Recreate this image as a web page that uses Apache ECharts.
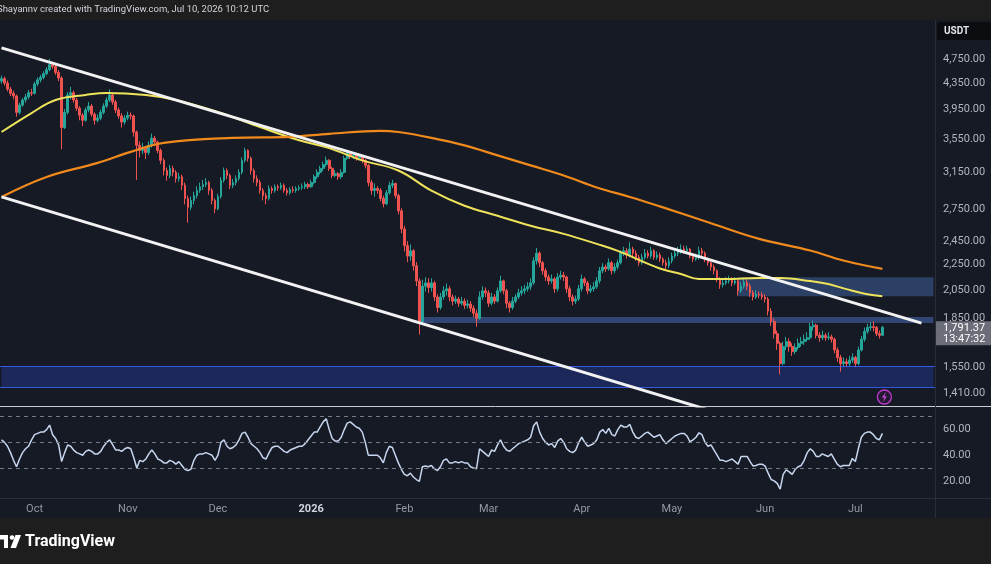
<!DOCTYPE html>
<html>
<head>
<meta charset="utf-8">
<script src="https://cdn.jsdelivr.net/npm/echarts@6/dist/echarts.min.js"></script>
<style>
html, body { margin: 0; padding: 0; background: #1e1e1e; }
#chart { width: 991px; height: 564px; }
</style>
</head>
<body>
<div id="chart"></div>
<script>
// daily candles, 2025-09-20 .. 2026-07-10 (open = previous close)
var firstOpen = 4380;
var closes = [
    4420, 4350, 4255, 4190, 4150, 3910, 4015, 4090, 4135, 4200,
    4190, 4335, 4400, 4440, 4500, 4565, 4650, 4620, 4520, 4430,
    3700, 3910, 4165, 4200, 4090, 3970, 3870, 3800, 3945, 4000,
    3885, 3800, 3830, 3910, 4000, 4090, 4165, 4060, 3945, 3860,
    3775, 3830, 3870, 3860, 3640, 3470, 3405, 3430, 3380, 3470,
    3560, 3510, 3405, 3285, 3165, 3110, 3190, 3145, 3075, 3095,
    3000, 2860, 2770, 2840, 2890, 2945, 2985, 3010, 3030, 2945,
    2840, 2755, 2880, 3055, 3165, 3110, 3000, 3030, 3075, 3145,
    3285, 3405, 3310, 3165, 3075, 3030, 2945, 2890, 2860, 2965,
    2945, 2985, 2975, 3000, 2945, 2920, 2955, 2945, 2965, 2975,
    2985, 3010, 2985, 3030, 3095, 3145, 3190, 3235, 3285, 3190,
    3110, 3130, 3095, 3145, 3310, 3370, 3335, 3345, 3310, 3335,
    3285, 3225, 3030, 2945, 2965, 2945, 2860, 2805, 2920, 3000,
    3020, 2890, 2735, 2560, 2410, 2320, 2365, 2240, 2120, 1830,
    2080, 2105, 2070, 2105, 2000, 1925, 2000, 2045, 2060, 2000,
    1970, 1985, 1955, 1970, 1940, 1950, 1920, 1885, 1850, 2000,
    2045, 2030, 1955, 2000, 1970, 2045, 2120, 2045, 1955, 1925,
    1970, 2000, 2030, 2045, 2060, 2075, 2105, 2280, 2345, 2265,
    2200, 2150, 2120, 2135, 2060, 2150, 2165, 2150, 2060, 2000,
    1970, 1985, 2060, 2135, 2105, 2045, 2060, 2075, 2120, 2200,
    2230, 2215, 2265, 2200, 2230, 2265, 2345, 2365, 2330, 2380,
    2345, 2310, 2265, 2310, 2345, 2320, 2365, 2310, 2330, 2295,
    2265, 2240, 2280, 2320, 2345, 2365, 2380, 2365, 2380, 2320,
    2295, 2310, 2365, 2345, 2295, 2265, 2230, 2200, 2135, 2090,
    2105, 2120, 2125, 2105, 2120, 2045, 2080, 2110, 2080, 2030,
    2000, 2020, 2015, 2000, 1985, 1900, 1830, 1750, 1690, 1570,
    1670, 1700, 1670, 1640, 1665, 1690, 1700, 1715, 1725, 1795,
    1805, 1740, 1725, 1740, 1725, 1730, 1715, 1650, 1605, 1570,
    1580, 1570, 1590, 1605, 1570, 1650, 1715, 1765, 1790, 1795,
    1790, 1750, 1740, 1791.37
];
var highs = [
    4470, 4450, 4390, 4290, 4230, 4170, 4050, 4120, 4180, 4240,
    4260, 4370, 4440, 4480, 4540, 4610, 4750, 4700, 4650, 4560,
    4460, 3960, 4210, 4290, 4230, 4120, 4000, 3900, 3980, 4060,
    4030, 3910, 3880, 3950, 4040, 4130, 4250, 4190, 4090, 3980,
    3900, 3870, 3920, 3910, 3880, 3660, 3520, 3500, 3460, 3520,
    3620, 3590, 3530, 3430, 3310, 3200, 3230, 3220, 3170, 3140,
    3120, 3030, 2890, 2880, 2930, 2990, 3030, 3060, 3080, 3050,
    2970, 2860, 2910, 3090, 3200, 3190, 3130, 3070, 3110, 3180,
    3320, 3440, 3420, 3330, 3190, 3110, 3060, 2970, 2920, 3000,
    2990, 3010, 3010, 3030, 3020, 2970, 2980, 2990, 2990, 3000,
    3020, 3040, 3030, 3060, 3120, 3180, 3220, 3270, 3330, 3300,
    3210, 3170, 3150, 3180, 3340, 3400, 3390, 3380, 3370, 3360,
    3350, 3300, 3240, 3060, 3020, 2990, 2970, 2890, 2950, 3040,
    3060, 3030, 2910, 2760, 2590, 2450, 2420, 2380, 2270, 2140,
    2130, 2150, 2140, 2140, 2120, 2020, 2030, 2080, 2100, 2080,
    2020, 2010, 2000, 2000, 1990, 1980, 1970, 1940, 1910, 2040,
    2080, 2070, 2050, 2030, 2020, 2070, 2160, 2130, 2060, 1970,
    2000, 2020, 2060, 2080, 2090, 2110, 2140, 2310, 2390, 2360,
    2280, 2220, 2170, 2170, 2150, 2180, 2200, 2190, 2160, 2080,
    2020, 2010, 2090, 2170, 2150, 2120, 2090, 2110, 2150, 2230,
    2260, 2250, 2300, 2280, 2260, 2290, 2370, 2400, 2390, 2440,
    2400, 2370, 2330, 2340, 2380, 2370, 2400, 2380, 2360, 2350,
    2310, 2290, 2310, 2350, 2380, 2400, 2420, 2410, 2410, 2390,
    2340, 2340, 2400, 2390, 2360, 2310, 2280, 2250, 2210, 2150,
    2130, 2150, 2160, 2150, 2150, 2130, 2110, 2140, 2130, 2100,
    2050, 2050, 2040, 2035, 2020, 2000, 1920, 1850, 1770, 1700,
    1700, 1730, 1720, 1690, 1690, 1720, 1730, 1745, 1760, 1820,
    1835, 1815, 1760, 1770, 1755, 1760, 1745, 1725, 1665, 1620,
    1605, 1600, 1615, 1630, 1615, 1670, 1735, 1790, 1815, 1825,
    1830, 1800, 1770, 1800
];
var lows = [
    4340, 4310, 4220, 4150, 4100, 3850, 3880, 3990, 4050, 4100,
    4150, 4170, 4300, 4360, 4410, 4470, 4540, 4580, 4480, 4380,
    3420, 3680, 3880, 4100, 4050, 3930, 3800, 3720, 3780, 3910,
    3850, 3740, 3770, 3800, 3880, 3970, 4060, 4020, 3900, 3820,
    3700, 3740, 3800, 3810, 3580, 3060, 3320, 3360, 3300, 3350,
    3440, 3460, 3370, 3240, 3110, 3050, 3080, 3100, 3030, 3040,
    2950, 2800, 2620, 2740, 2800, 2860, 2920, 2950, 2980, 2900,
    2800, 2710, 2740, 2860, 3030, 3070, 2960, 2970, 3000, 3050,
    3120, 3260, 3270, 3120, 3030, 2990, 2910, 2840, 2800, 2840,
    2910, 2920, 2940, 2950, 2920, 2890, 2900, 2920, 2920, 2940,
    2950, 2960, 2960, 2970, 3010, 3070, 3120, 3160, 3210, 3160,
    3080, 3090, 3060, 3070, 3130, 3290, 3300, 3300, 3280, 3290,
    3250, 3190, 2990, 2900, 2880, 2910, 2830, 2770, 2790, 2900,
    2970, 2860, 2700, 2520, 2360, 2270, 2280, 2200, 2080, 1745,
    1810, 2040, 2030, 2040, 1970, 1890, 1910, 1980, 2010, 1970,
    1940, 1950, 1930, 1940, 1915, 1920, 1895, 1860, 1795, 1840,
    1980, 2000, 1930, 1940, 1950, 1960, 2030, 2020, 1920, 1890,
    1910, 1955, 1985, 2010, 2020, 2040, 2050, 2090, 2250, 2230,
    2170, 2120, 2090, 2100, 2030, 2040, 2130, 2120, 2030, 1970,
    1940, 1950, 1970, 2040, 2080, 2020, 2030, 2040, 2060, 2100,
    2180, 2190, 2200, 2170, 2180, 2210, 2250, 2320, 2300, 2310,
    2320, 2280, 2240, 2250, 2290, 2300, 2300, 2290, 2290, 2270,
    2240, 2210, 2220, 2260, 2300, 2320, 2340, 2340, 2340, 2300,
    2270, 2280, 2290, 2320, 2270, 2240, 2200, 2170, 2110, 2060,
    2070, 2090, 2100, 2080, 2090, 2010, 2030, 2060, 2050, 2000,
    1975, 1985, 1990, 1980, 1960, 1870, 1800, 1720, 1650, 1510,
    1560, 1650, 1640, 1615, 1625, 1650, 1670, 1680, 1700, 1710,
    1770, 1720, 1700, 1710, 1705, 1710, 1695, 1630, 1580, 1525,
    1550, 1550, 1555, 1575, 1550, 1560, 1640, 1700, 1750, 1770,
    1765, 1735, 1720, 1735
];
var rsiValues = [
    52, 50, 47, 42, 36, 31, 37, 42, 45, 47,
    52, 56, 57, 58, 58, 60, 63.5, 56, 53, 48,
    35, 42, 48, 47, 44, 42, 41, 40, 43, 44,
    43, 41, 41, 43, 47, 50, 52, 48, 44, 44,
    43, 45, 46, 45, 38, 30, 36, 35, 37, 41,
    44, 41, 37, 36, 34, 34, 36, 35, 33, 35,
    32, 29, 28, 29, 36, 40, 41, 41, 42, 41,
    40, 36, 40, 50, 52, 47, 45, 46, 48, 52,
    57, 58, 54, 49, 47, 45, 42, 38, 37, 42,
    46, 47, 47, 45, 43, 42, 44, 45, 46, 47,
    47, 49, 52, 55, 58, 58, 62, 66, 68.5, 60,
    53, 51, 51, 54, 60, 65, 66, 64, 62, 61,
    58, 50, 40, 40, 40, 40, 38, 34, 42, 47,
    46, 40, 34, 29, 25, 24, 26, 23, 21, 19.5,
    31, 31.5, 31, 32, 29.5, 28, 31, 36, 37, 34,
    34, 35, 34, 35, 34, 34, 31, 30, 29.5, 45,
    43, 41, 39, 44, 43, 48, 52, 47, 44, 43,
    45, 47, 49, 50, 51, 52, 54, 63, 66, 58,
    53, 50, 48, 49, 46, 51, 53, 50, 45, 43,
    42, 44, 50, 54, 50, 47, 48, 49, 52, 58,
    60, 57, 61, 56, 55, 60, 63.5, 62, 62, 64,
    58, 54, 53, 55, 57, 58, 56, 54, 55, 56,
    52, 49, 51, 53, 55, 56, 57, 57, 55, 50.5,
    52, 54, 57.5, 56, 50, 47, 48, 44, 40, 36,
    36, 35, 36, 37, 35, 33, 39, 39, 39, 35,
    31.5, 32, 33, 33, 31.5, 26, 21, 20, 18, 13.5,
    25, 28.5, 27, 25, 29, 31, 32, 36, 42, 45,
    43, 39, 39, 41, 40, 39, 41, 37, 33, 31,
    32, 32, 32, 37.5, 35, 45, 54, 57, 58, 58,
    56, 53, 52, 57
];
// moving averages
var ma100Points = [
    ['2025-09-20', 3641], ['2025-09-30', 3901], ['2025-10-08', 4089], ['2025-10-18', 4165],
    ['2025-10-25', 4197], ['2025-11-07', 4165], ['2025-11-17', 4089], ['2025-12-02', 3901],
    ['2025-12-15', 3707], ['2025-12-28', 3533], ['2026-01-07', 3434], ['2026-01-18', 3284],
    ['2026-01-30', 3166], ['2026-02-10', 2943], ['2026-02-21', 2786], ['2026-03-04', 2686],
    ['2026-03-15', 2590], ['2026-03-26', 2515], ['2026-04-06', 2425], ['2026-04-13', 2364],
    ['2026-04-27', 2218], ['2026-05-04', 2174], ['2026-05-10', 2134], ['2026-05-19', 2134],
    ['2026-05-30', 2142], ['2026-06-06', 2142], ['2026-06-16', 2119], ['2026-06-22', 2096],
    ['2026-06-28', 2058], ['2026-07-05', 2020], ['2026-07-10', 2006]
];
var ma200Points = [
    ['2025-09-20', 2876], ['2025-10-05', 3093], ['2025-10-22', 3255], ['2025-11-02', 3388],
    ['2025-11-13', 3501], ['2025-12-06', 3565], ['2025-12-25', 3578], ['2026-01-07', 3617],
    ['2026-01-24', 3657], ['2026-01-30', 3641], ['2026-02-10', 3565], ['2026-02-21', 3469],
    ['2026-03-04', 3345], ['2026-03-15', 3225], ['2026-03-26', 3109], ['2026-04-06', 2976],
    ['2026-04-17', 2876], ['2026-04-27', 2779], ['2026-05-14', 2614], ['2026-05-30', 2470],
    ['2026-06-16', 2368], ['2026-06-27', 2283], ['2026-07-10', 2215]
];
var channelUpper = [['2025-09-20', 4943], ['2026-07-23', 1819]];
var channelLower = [['2025-09-20', 2877], ['2026-05-18', 1306]];
// zones: [start date, low, high]
var zoneSupply = ['2026-05-23', 2006, 2149];
var zoneLevel = ['2026-02-06', 1820, 1859];
var zoneDemand = ['2025-09-20', 1441, 1555];

var priceTicks = [4750, 4350, 3950, 3550, 3150, 2750, 2450, 2250, 2050, 1850, 1550, 1410];
var rsiTicks = [20, 40, 60];
var rsiLevels = [70, 50, 30];
var monthNames = ['Jan', 'Feb', 'Mar', 'Apr', 'May', 'Jun', 'Jul', 'Aug', 'Sep', 'Oct', 'Nov', 'Dec'];

var dates = [];
for (var i = 0; i < 311; i++) {
    dates.push(new Date(Date.UTC(2025, 8, 20) + i * 86400000).toISOString().slice(0, 10));
}
var lastDate = dates[dates.length - 1];

var candleData = closes.map(function (c, i) {
    var o = i === 0 ? firstOpen : closes[i - 1];
    return [o, c, lows[i], highs[i]];
});

function fmt2(v) {
    return Number(v).toLocaleString('en-US', { minimumFractionDigits: 2, maximumFractionDigits: 2 });
}

var FONT = 'Roboto';
var chart = echarts.init(document.getElementById('chart'));

var option = {
    animation: false,
    backgroundColor: '#161a25',
    textStyle: { fontFamily: FONT },
    grid: [
        { left: 0, right: 56, top: 21, height: 385 },
        { left: 0, right: 56, top: 407, height: 91 }
    ],
    xAxis: [
        {
            type: 'category', gridIndex: 0, data: dates, boundaryGap: true,
            axisLine: { show: false }, axisTick: { show: false }, axisLabel: { show: false }, splitLine: { show: false }
        },
        {
            type: 'category', gridIndex: 1, data: dates, boundaryGap: true,
            axisLine: { show: true, lineStyle: { color: '#2a2e39' } },
            axisTick: { show: false },
            splitLine: { show: false },
            axisLabel: {
                interval: function (idx, val) { return val.slice(8) === '01'; },
                formatter: function (val) {
                    var m = +val.slice(5, 7);
                    return m === 1 ? '{y|' + val.slice(0, 4) + '}' : monthNames[m - 1];
                },
                rich: { y: { fontWeight: 'bold', color: '#d1d4dc', fontSize: 11, fontFamily: FONT } },
                color: '#9598a1', fontSize: 11, margin: 6
            }
        }
    ],
    yAxis: [
        {
            type: 'log', gridIndex: 0, position: 'right', min: 1346, max: 5449,
            axisLine: { show: false }, axisTick: { show: false }, splitLine: { show: false },
            axisLabel: { customValues: priceTicks, formatter: fmt2, color: '#b2b5be', fontSize: 11, margin: 8 }
        },
        {
            type: 'value', gridIndex: 1, position: 'right', min: 6.6, max: 77.6,
            axisLine: { show: false }, axisTick: { show: false }, splitLine: { show: false },
            axisLabel: { customValues: rsiTicks, formatter: fmt2, color: '#b2b5be', fontSize: 11, margin: 8 }
        }
    ],
    series: [
        {
            name: 'ETHUSDT', type: 'candlestick', xAxisIndex: 0, yAxisIndex: 0, data: candleData, z: 3,
            barWidth: 2.2,
            itemStyle: { color: '#26a69a', color0: '#ef5350', borderColor: '#26a69a', borderColor0: '#ef5350', borderWidth: 1 }
        },
        {
            name: 'MA100', type: 'line', xAxisIndex: 0, yAxisIndex: 0, data: ma100Points, smooth: 0.4,
            symbol: 'none', z: 4, lineStyle: { color: '#eee35a', width: 2 }
        },
        {
            name: 'MA200', type: 'line', xAxisIndex: 0, yAxisIndex: 0, data: ma200Points, smooth: 0.4,
            symbol: 'none', z: 4, lineStyle: { color: '#f08a1d', width: 2.2 }
        },
        {
            name: 'zones', type: 'line', xAxisIndex: 0, yAxisIndex: 0, data: [], z: 5, silent: true,
            markArea: {
                silent: true,
                data: [
                    [{ xAxis: zoneSupply[0], yAxis: zoneSupply[2], itemStyle: { color: 'rgba(72,108,180,0.45)' } },
                     { xAxis: lastDate, yAxis: zoneSupply[1] }],
                    [{ xAxis: zoneLevel[0], yAxis: zoneLevel[2], itemStyle: { color: 'rgba(72,108,180,0.55)' } },
                     { xAxis: lastDate, yAxis: zoneLevel[1] }],
                    [{ xAxis: zoneDemand[0], yAxis: zoneDemand[2], itemStyle: { color: 'rgba(41,80,230,0.27)' } },
                     { xAxis: lastDate, yAxis: zoneDemand[1] }]
                ]
            },
            markLine: {
                silent: true, symbol: 'none', label: { show: false },
                lineStyle: { color: 'rgba(55,100,255,0.85)', type: 'solid', width: 1 },
                data: [{ yAxis: zoneDemand[1] }, { yAxis: zoneDemand[2] }]
            }
        },
        {
            name: 'upper', type: 'line', xAxisIndex: 0, yAxisIndex: 0, data: channelUpper,
            symbol: 'none', z: 6, lineStyle: { color: '#f2f2f2', width: 3 }
        },
        {
            name: 'lower', type: 'line', xAxisIndex: 0, yAxisIndex: 0, data: channelLower,
            symbol: 'none', z: 6, clip: true, lineStyle: { color: '#f2f2f2', width: 3 }
        },
        {
            name: 'RSI', type: 'line', xAxisIndex: 1, yAxisIndex: 1, data: rsiValues,
            symbol: 'none', z: 4, lineStyle: { color: '#c6d6ee', width: 1.5 },
            markLine: {
                silent: true, symbol: 'none', label: { show: false },
                lineStyle: { color: '#787b86', type: [4, 4], width: 1 },
                data: rsiLevels.map(function (v) { return { yAxis: v }; })
            }
        }
    ]
};
chart.setOption(option);

var lastClose = closes[closes.length - 1];
var py = chart.convertToPixel({ yAxisIndex: 0 }, lastClose);
var px = chart.convertToPixel({ xAxisIndex: 0 }, dates[closes.length - 1]);

chart.setOption({
    graphic: [
        { type: 'rect', shape: { x: 0, y: 0, width: 991, height: 20 }, style: { fill: '#1e1e1e' } },
        { type: 'rect', shape: { x: 0, y: 518, width: 991, height: 46 }, style: { fill: '#1e1e1e' } },
        { type: 'text', x: -3, y: 10, style: { text: 'Shayannv created with TradingView.com, Jul 10, 2026 10:12 UTC', fill: '#d1d4dc', font: '9.5px Roboto', verticalAlign: 'middle' } },
        { type: 'line', shape: { x1: 0, y1: 406.5, x2: 991, y2: 406.5 }, style: { stroke: '#c9ccd4', lineWidth: 1 } },
        { type: 'line', shape: { x1: 935.5, y1: 20, x2: 935.5, y2: 518 }, style: { stroke: '#2a2e39', lineWidth: 1 } },
        { type: 'line', shape: { x1: 0, y1: 498.5, x2: 991, y2: 498.5 }, style: { stroke: '#2a2e39', lineWidth: 1 } },
        { type: 'rect', shape: { x: 937, y: 22, width: 54, height: 18 }, style: { fill: '#0c0d10' } },
        { type: 'text', x: 944, y: 31.5, style: { text: 'USDT', fill: '#e0e3eb', font: 'bold 10px Roboto', verticalAlign: 'middle' } },
        { type: 'rect', shape: { x: 936, y: py - 6, width: 55, height: 24 }, style: { fill: '#6b6e79' } },
        { type: 'text', x: 943, y: py + 0.5, style: { text: fmt2(lastClose), fill: '#ffffff', font: '11px Roboto', verticalAlign: 'middle' } },
        { type: 'text', x: 943, y: py + 11.5, style: { text: '13:47:32', fill: '#ffffff', font: '11px Roboto', verticalAlign: 'middle' } },
        { type: 'circle', shape: { cx: px + 2, cy: 397, r: 7 }, style: { fill: '#241a33', stroke: '#c03ad0', lineWidth: 1.3 } },
        { type: 'polygon', shape: { points: [[px + 3.5, 392], [px - 0.5, 397.5], [px + 2, 397.5], [px + 0.5, 402], [px + 4.5, 396.5], [px + 2, 396.5]] }, style: { fill: '#d04ae0' } },
        { type: 'polygon', shape: { points: [[0, 535], [8, 535], [8, 548], [4, 548], [4, 539.5], [0, 539.5]] }, style: { fill: '#ffffff' } },
        { type: 'circle', shape: { cx: 12, cy: 537.5, r: 2.3 }, style: { fill: '#ffffff' } },
        { type: 'polygon', shape: { points: [[15.5, 535], [21, 535], [16, 548], [10.5, 548]] }, style: { fill: '#ffffff' } },
        { type: 'text', x: 25, y: 542, style: { text: 'TradingView', fill: '#ffffff', font: 'bold 16px Roboto', verticalAlign: 'middle' } }
    ]
});
</script>
</body>
</html>
